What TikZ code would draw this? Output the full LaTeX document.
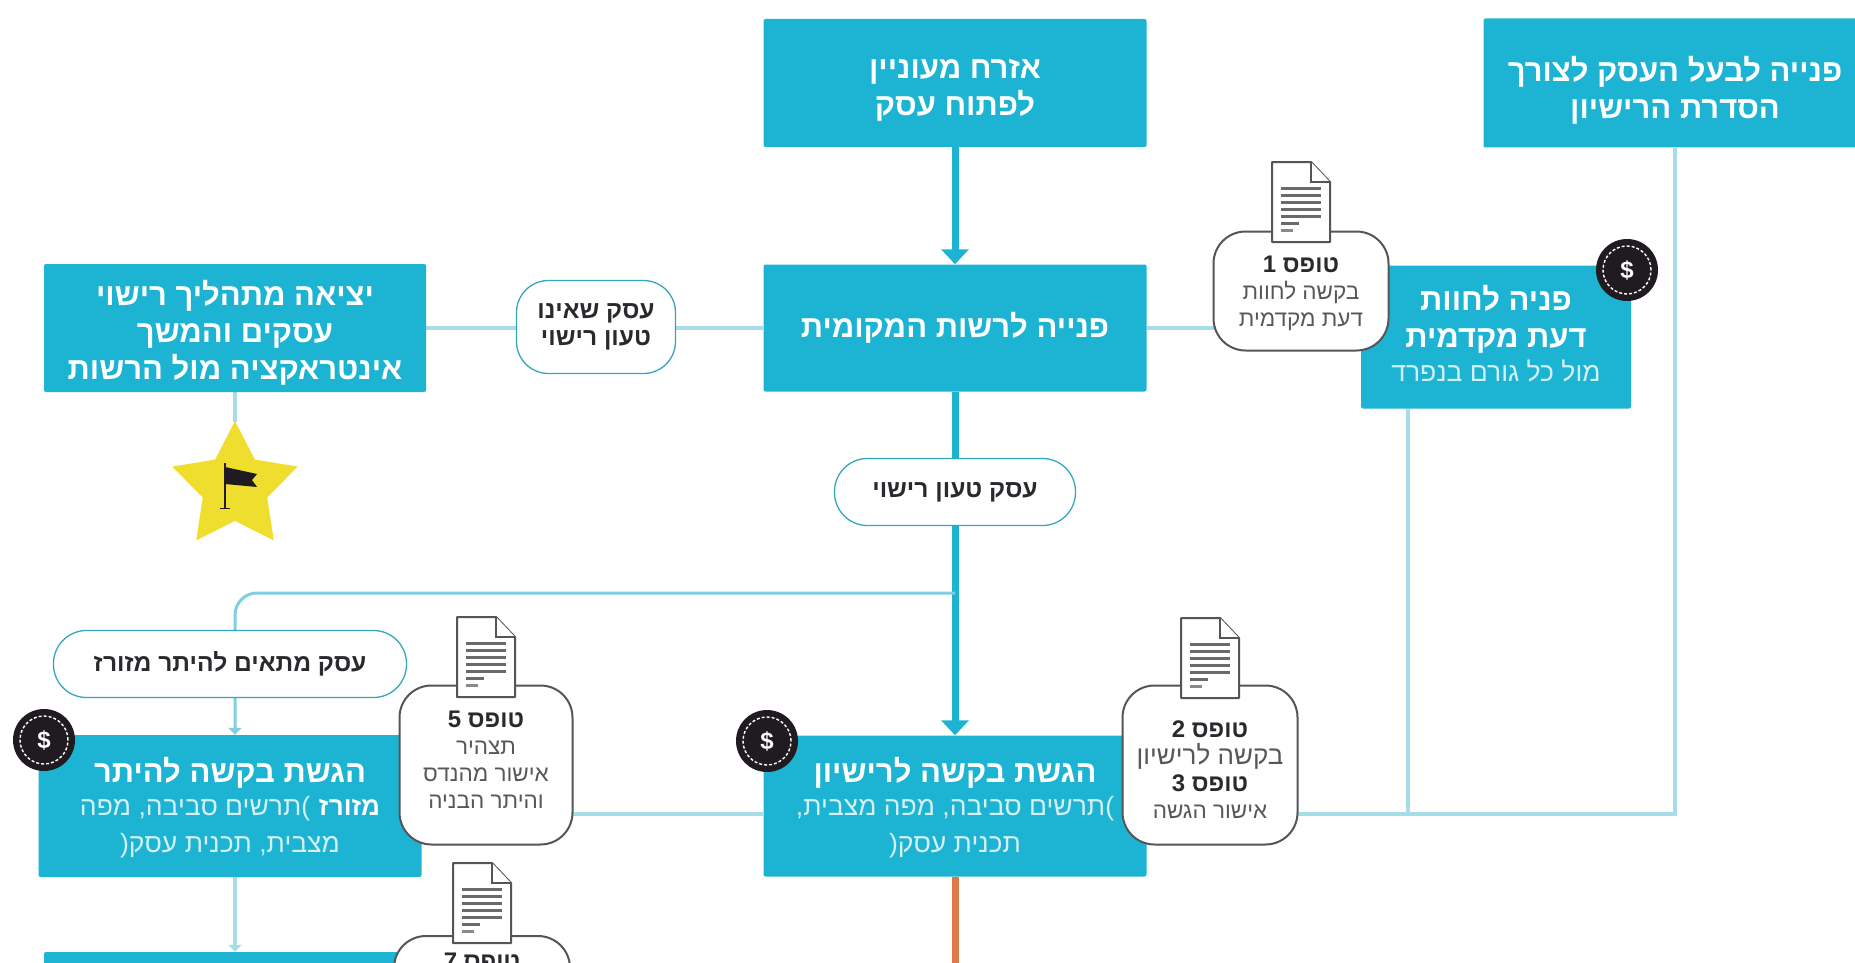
\documentclass[tikz,border=0pt]{standalone}
\usepackage{fontspec}
\setmainfont{Liberation Sans}[Script=Hebrew]
\TeXXeTstate=1
\usetikzlibrary{shapes.geometric,arrows.meta,backgrounds,positioning}
\definecolor{teal1}{HTML}{1CB4D2}
\definecolor{thinl}{HTML}{7FCFE0}
\definecolor{palel}{HTML}{A6DDE8}
\definecolor{soft}{HTML}{D4F1F7}
\definecolor{ink}{HTML}{2A2A2E}
\definecolor{grayt}{HTML}{55585A}
\definecolor{orng}{HTML}{E0794A}
\definecolor{star1}{HTML}{F0DE2E}
\definecolor{dark}{HTML}{1F1B20}
\newcommand\hb[1]{\beginR #1\endR}
\newcommand\pad[1]{\rule{0pt}{#1pt}}
\newcommand\formtitle[1]{{\fontsize{24}{27}\selectfont\bfseries\color{ink}\hb{#1}}}
\newcommand\softline[1]{{\fontsize{26.5}{30}\selectfont\mdseries\color{soft}\hb{#1}}}
\tikzset{
  x=1pt,y=-1pt,
  box/.style={rectangle,rounded corners=2pt,fill=teal1,inner sep=0pt,text=white,align=center,
     font=\fontsize{31}{37}\selectfont\bfseries},
  pill/.style={rectangle,draw=teal1!75!gray,line width=1.3pt,fill=white,inner sep=0pt,text=ink,align=center,
     font=\fontsize{24.6}{27}\selectfont\bfseries},
  bubble/.style={rectangle,rounded corners=32pt,draw=ink!80,line width=2pt,fill=white,inner sep=0pt,text=grayt,align=center,
     font=\fontsize{22.5}{27}\selectfont},
  badge/.style={circle,fill=dark,minimum size=62pt,inner sep=0pt,text=white,font=\fontsize{24}{24}\selectfont\bfseries},
  ring/.style={draw=white,line width=1.4pt,densely dashed},
  thick main/.style={draw=teal1,line width=7pt},
  thinline/.style={draw=thinl,line width=3pt,rounded corners=22pt},
  paleline/.style={draw=palel,line width=4pt},
  bigtip/.style={-{Triangle[width=27pt,length=15pt]}},
  smalltip/.style={-{Triangle[width=13pt,length=7pt]}},
  docicon/.pic={
    \draw[fill=white,draw=ink!80,line width=2pt,line join=round]
      (-29,-40) -- (10,-40) -- (29,-20) -- (29,40) -- (-29,40) -- cycle;
    \draw[fill=white,draw=ink!80,line width=1.5pt] (10,-40) -- (10,-20) -- (29,-20);
    \foreach \yy in {-14,-7,0,7,14} \draw[ink!70,line width=3pt] (-20,\yy) -- (20,\yy);
    \draw[ink!70,line width=3pt] (-20,21) -- (-2,21);
    \draw[ink!55,line width=3pt] (-20,28) -- (-8,28);
  },
}
\begin{document}
\begin{tikzpicture}
\useasboundingbox (0,0) rectangle (1855,963);
\clip (0,0) rectangle (1855,963);

% boxes
\node[box,minimum width=383pt,minimum height=128pt] (citizen) at (955,83) {\pad{33}\hb{אזרח מעוניין}\\\hb{לפתוח עסק}};
\node[box,minimum width=383pt,minimum height=129pt] (owner) at (1675,83) {\pad{39}\hb{פנייה לבעל העסק לצורך}\\\hb{הסדרת הרישיון}};
\node[box,minimum width=383pt,minimum height=127pt] (local) at (955,328) {\hb{פנייה לרשות המקומית}};
\node[box,minimum width=382pt,minimum height=128pt] (exit) at (235,328) {\pad{35}\hb{יציאה מתהליך רישוי}\\\hb{עסקים והמשך}\\\hb{אינטראקציה מול הרשות}};
\node[box,minimum width=270pt,minimum height=143pt] (prelim) at (1496,337) {\hb{פניה לחוות}\\\hb{דעת מקדמית}\\[-3pt]\softline{מול כל גורם בנפרד}\rule[-7pt]{0pt}{0pt}};
\node[box,minimum width=383pt,minimum height=141pt] (submit) at (955,806) {\pad{28}\hb{הגשת בקשה לרישיון}\\[-4pt]\softline{)תרשים סביבה, מפה מצבית,}\\\softline{תכנית עסק(}};
\node[box,minimum width=383pt,minimum height=142pt] (fast) at (230,806) {\pad{28}\hb{הגשת בקשה להיתר}\\[-4pt]\softline{)תרשים סביבה, מפה} {\fontsize{26}{30}\selectfont\hb{מזורז}}\\\softline{מצבית, תכנית עסק(}};
\node[box,minimum width=362pt,minimum height=40pt] (next) at (225,972) {};

% junctions
\coordinate (upper) at (235,593);
\coordinate (rail) at (1408,814);

% connectors
\begin{scope}[on background layer]
  \fill[white] (0,0) rectangle (1855,963);
  \draw[thick main,bigtip] (citizen.south) -- (local.north);
  \draw[thick main,bigtip] (local.south) -- (submit.north);
  \draw[orng,line width=7pt] (submit.south) -- (955,963);
  \draw[thinline,smalltip] (local.south |- upper) -- (upper) -- (upper |- fast.north);
  \draw[paleline,smalltip] (upper |- fast.south) -- (upper |- next.north);
  \draw[paleline] (exit.east) -- (local.west);
  \draw[paleline] (local.east) -- (prelim.west |- local.east);
  \draw[paleline] (exit.south -| upper) -- +(0,30);
  \draw[paleline] (submit.west |- rail) -- (fast.east |- rail);
  \draw[paleline,line width=3.5pt] (submit.east |- rail) -- (owner.south |- rail) -- (owner.south);
  \draw[paleline,line width=3.5pt] (rail) -- (rail |- prelim.south);
\end{scope}

% pills
\node[pill,minimum width=159pt,minimum height=93pt,rounded corners=32pt] (p1) at (596,327) {\hb{עסק שאינו}\\\hb{טעון רישוי}};
\node[pill,minimum width=241pt,minimum height=67pt,rounded corners=33pt] (p2) at (955,492) {\hb{עסק טעון רישוי}};
\node[pill,minimum width=353pt,minimum height=67pt,rounded corners=33pt] (p3) at (230,664) {\hb{עסק מתאים להיתר מזורז}};

% bubbles
\node[bubble,minimum width=175pt,minimum height=119pt] (b1) at (1301,291) {\pad{22}\formtitle{טופס 1}\\\hb{בקשה לחוות}\\\hb{דעת מקדמית}};
\node[bubble,minimum width=175pt,minimum height=159pt] (b2) at (1210,765) {\pad{26}\formtitle{טופס 2}\\{\fontsize{26}{27}\selectfont\hb{בקשה לרישיון}}\\\formtitle{טופס 3}\\\hb{אישור הגשה}};
\node[bubble,minimum width=173pt,minimum height=159pt] (b5) at (486,765) {\pad{20}\formtitle{טופס 5}\\\hb{תצהיר}\\\hb{אישור מהנדס}\\\hb{והיתר הבניה}\\[-13pt]};
\node[bubble,minimum width=176pt,minimum height=120pt,anchor=north] (b7) at (482,935) {\formtitle{טופס 7}\\[42pt]};

% document icons
\pic at (1301,202) {docicon};
\pic at (1210,658) {docicon};
\pic at (486,657) {docicon};
\pic at (482,903) {docicon};

% badges
\node[badge] (d1) at (1627,270) {\$};
\draw[ring] (d1) circle (24pt);
\node[badge] (d2) at (767,741) {\$};
\draw[ring] (d2) circle (24pt);
\node[badge] (d3) at (44,740) {\$};
\draw[ring] (d3) circle (24pt);

% star with flag
\node[star,star points=5,star point ratio=1.95,fill=star1,minimum size=132pt,inner sep=0pt] (goal) at (235,487) {};
\draw[dark,line width=1.8pt] (225,463) -- (225,508);
\draw[dark,line width=1pt] (220,508) -- (230,508);
\fill[dark] (225,467) -- (257,474) -- (252,480) -- (257,487) -- (225,484) -- cycle;
\end{tikzpicture}
\end{document}
